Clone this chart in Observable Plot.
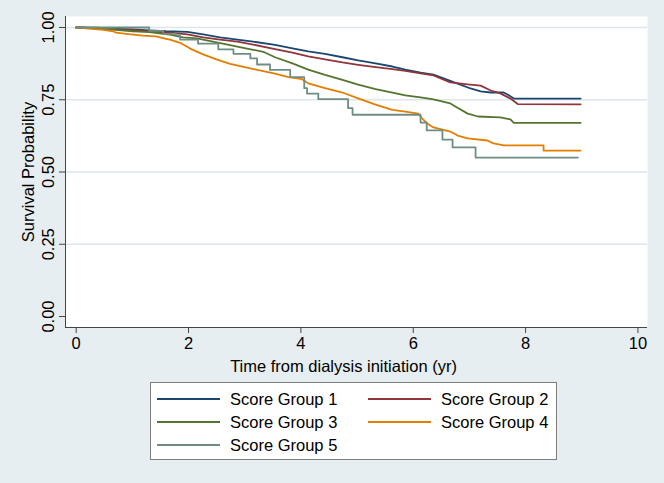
<!DOCTYPE html>
<html><head><meta charset="utf-8">
<script src="https://cdn.jsdelivr.net/npm/d3@7"></script>
<script src="https://cdn.jsdelivr.net/npm/@observablehq/plot@0.6"></script>
<style>
html,body{margin:0;padding:0;background:#e7eef1;}
#wrap{position:relative;width:664px;height:483px;overflow:hidden;font-family:"Liberation Sans",Arial,Helvetica,sans-serif;}
#chart svg{display:block;}
#legend{position:absolute;left:150px;top:382px;width:405px;height:76px;background:#fff;border:1px solid #7d7d7d;}
.item{position:absolute;height:20px;width:200px;}
.swatch{position:absolute;left:0;top:9px;width:63px;height:2px;}
.lab{position:absolute;left:73px;top:0;font-size:16.5px;line-height:20px;white-space:nowrap;color:#000;}
</style></head>
<body><div id="wrap"><div id="chart"></div><div id="legend"></div></div>
<script>
// Survival estimates (time in years, survival probability)
const g1T = [0, 1.01, 1.30, 1.60, 1.98, 2.26, 2.56, 2.87, 3.15, 3.54, 3.85, 4.13, 4.43, 4.74, 5.02, 5.33, 5.63, 5.86, 6.13, 6.36, 6.54, 6.79, 7.02, 7.20, 7.38, 7.61, 7.68, 7.79, 8.98];
const g1S = [1, .993, .990, .987, .985, .976, .966, .958, .951, .940, .928, .917, .909, .897, .886, .876, .865, .854, .844, .837, .824, .806, .789, .779, .775, .775, .768, .754, .754];

const g2T = [0, 1.12, 1.37, 1.67, 1.98, 2.26, 2.56, 2.87, 3.15, 3.54, 3.85, 4.13, 4.43, 4.74, 5.02, 5.33, 5.63, 5.86, 6.13, 6.36, 6.66, 6.97, 7.20, 7.38, 7.55, 7.73, 7.86, 8.98];
const g2S = [1, .990, .986, .982, .976, .966, .958, .951, .941, .925, .913, .900, .890, .879, .871, .863, .856, .850, .841, .834, .810, .803, .799, .782, .772, .754, .735, .734];

const g3T = [0, 0.41, 0.71, 1.01, 1.30, 1.55, 1.67, 1.90, 2.15, 2.39, 2.74, 3.04, 3.33, 3.54, 3.85, 4.13, 4.43, 4.74, 5.02, 5.33, 5.63, 5.86, 6.13, 6.36, 6.66, 6.81, 6.97, 7.15, 7.55, 7.73, 7.79, 8.98];
const g3S = [1, .999, .992, .987, .984, .978, .975, .966, .962, .953, .939, .927, .916, .897, .876, .854, .836, .819, .802, .787, .775, .765, .758, .751, .737, .720, .702, .692, .689, .682, .670, .670];

const g4T = [0, 0.23, 0.48, 0.66, 0.71, 0.89, 1.19, 1.42, 1.60, 1.67, 1.85, 2.03, 2.26, 2.51, 2.74, 3.04, 3.33, 3.54, 3.78, 4.02, 4.13, 4.43, 4.74, 5.02, 5.33, 5.63, 5.86, 6.09, 6.16, 6.25, 6.36, 6.66, 6.79, 6.97, 7.32, 7.43, 7.61, 8.32, 8.32, 8.98];
const g4S = [1, .996, .992, .987, .982, .978, .972, .969, .961, .958, .947, .927, .907, .889, .874, .861, .849, .840, .828, .821, .807, .790, .775, .755, .733, .715, .709, .702, .685, .668, .654, .640, .626, .616, .609, .599, .592, .592, .574, .574];

const g5T = [0, 1.30, 1.55, 1.78, 1.85, 2.17, 2.53, 2.80, 3.10, 3.22, 3.45, 3.81, 4.06, 4.11, 4.31, 4.84, 4.92, 6.13, 6.24, 6.52, 6.70, 7.11, 8.93];
const g5S = [1, .988, .978, .973, .958, .944, .924, .909, .893, .872, .853, .828, .790, .771, .752, .721, .698, .671, .644, .612, .585, .550, .550];

const groupNames = ["Score Group 1", "Score Group 2", "Score Group 3", "Score Group 4", "Score Group 5"];
const groupColors = ["#1a476f", "#90353b", "#55752f", "#e37e00", "#6e8e84"];
const groupCurves = ["linear", "linear", "linear", "linear", "step-after"];

const xTicks = [0, 2, 4, 6, 8, 10];
const yTicks = [0, 0.25, 0.5, 0.75, 1];
const yGrid = [0.25, 0.5, 0.75, 1];
const xTitle = "Time from dialysis initiation (yr)";
const yTitle = "Survival Probability";

const series = [[g1T, g1S], [g2T, g2S], [g3T, g3S], [g4T, g4S], [g5T, g5S]];
const tables = series.map(([T, S]) => T.map((t, i) => ({t, s: S[i]})));

const xDom = [-0.19, 10.17];
const yDom = [-0.038, 1.038];
const FS = 16.5;

const chart = Plot.plot({
  width: 664, height: 378,
  marginLeft: 65, marginRight: 17, marginTop: 16, marginBottom: 51,
  style: {background: "transparent", fontFamily: "'Liberation Sans', Arial, Helvetica, sans-serif", fontSize: FS + "px", color: "#000", overflow: "visible"},
  x: {domain: xDom},
  y: {domain: yDom},
  marks: [
    Plot.frame({fill: "#fff", stroke: "none"}),
    Plot.ruleY(yGrid, {stroke: "#dde6eb", strokeWidth: 1.3}),
    ...tables.map((d, i) => Plot.line(d, {x: "t", y: "s", stroke: groupColors[i], strokeWidth: 1.8, curve: groupCurves[i]})),
    Plot.ruleX([xDom[0]], {stroke: "#444", strokeWidth: 1}),
    Plot.ruleY([yDom[0]], {stroke: "#444", strokeWidth: 1}),
    Plot.axisX({ticks: xTicks, tickSize: 6, tickPadding: 4, label: null, tickFormat: d => String(d), stroke: "#444", fontSize: FS}),
    Plot.axisY({ticks: yTicks, tickSize: 6, tickFormat: () => "", label: null, stroke: "#444"}),
    Plot.text(yTicks, {frameAnchor: "left", y: d => d, text: d => d.toFixed(2), rotate: -90, dx: -12, lineAnchor: "bottom", textAnchor: "middle", fontSize: FS}),
    Plot.text([yTitle], {frameAnchor: "left", rotate: -90, dx: -32, lineAnchor: "bottom", textAnchor: "middle", fontSize: FS}),
    Plot.text([xTitle], {frameAnchor: "bottom", dy: 44, dx: -13, lineAnchor: "bottom", fontSize: FS})
  ]
});
document.getElementById("chart").appendChild(chart);

// legend
const legend = document.getElementById("legend");
const cols = [6, 217];
const rows = [6, 29, 52];
groupNames.forEach((name, i) => {
  const item = document.createElement("div");
  item.className = "item";
  item.style.left = cols[i % 2] + "px";
  item.style.top = rows[Math.floor(i / 2)] + "px";
  const sw = document.createElement("div");
  sw.className = "swatch";
  sw.style.backgroundColor = groupColors[i];
  const lab = document.createElement("div");
  lab.className = "lab";
  lab.textContent = name;
  item.appendChild(sw); item.appendChild(lab);
  legend.appendChild(item);
});
</script></body></html>
